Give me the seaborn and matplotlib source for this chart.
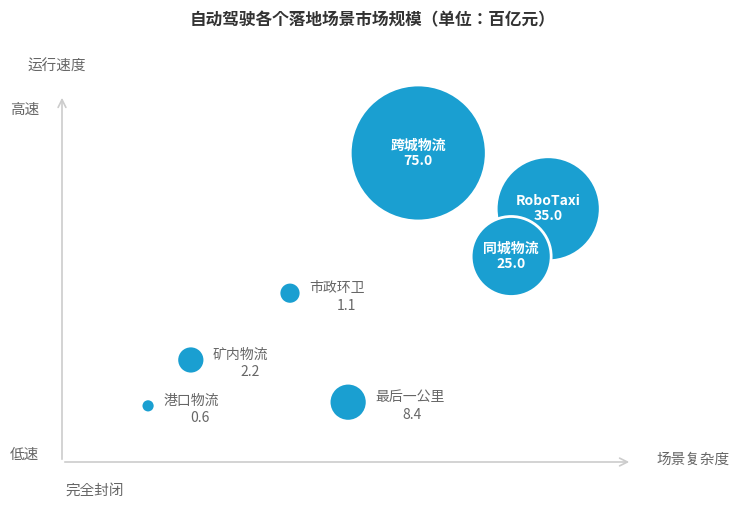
import matplotlib.pyplot as plt
import seaborn as sns
import pandas as pd

plt.rcParams['font.family'] = ['Noto Sans CJK SC', 'Noto Sans CJK JP', 'Noto Sans CJK TC',
                               'Noto Sans CJK KR', 'DejaVu Sans']

# Data (positions on a 0-100 "complexity" / "speed" scale)
names = ['跨城物流', 'RoboTaxi', '同城物流', '市政环卫', '矿内物流', '最后一公里', '港口物流']
values = [75.0, 35.0, 25.0, 1.1, 2.2, 8.4, 0.6]
complexity = [62.5, 85.3, 78.8, 40.0, 22.6, 50.2, 15.1]
speed = [84.2, 69.0, 56.0, 46.0, 27.8, 16.3, 15.3]

df = pd.DataFrame({'name': names, 'value': values, 'x': complexity, 'y': speed})

# bubble radii in pixels (visual style)
radius_px = [68, 52, 40, 11, 14, 19, 7]
sizes = {n: (1.44 * r) ** 2 for n, r in zip(names, radius_px)}
inside = {'跨城物流', 'RoboTaxi', '同城物流'}

fig = plt.figure(figsize=(7.46, 5.15), dpi=100)
ax = fig.add_axes([62 / 746, 53 / 515, 570 / 746, 367 / 515])
blue = '#1a9fd1'

sns.scatterplot(data=df, x='x', y='y', size='name', sizes=sizes, legend=False,
                color=blue, edgecolor='white', linewidth=2, alpha=1, ax=ax, clip_on=False)

for _, row in df.iterrows():
    if row['name'] in inside:
        ax.text(row['x'], row['y'], f"{row['name']}\n{row['value']:.1f}", color='white',
                fontsize=10, fontweight='bold', ha='center', va='center', linespacing=1.1)
    else:
        r = radius_px[names.index(row['name'])]
        dx = (r + 8) / 570 * 100
        ax.text(row['x'] + dx, row['y'] - 0.5, row['name'], color='#666666', fontsize=10,
                ha='left', va='bottom')
        ax.text(row['x'] + dx + 6.5, row['y'] - 1.5, f"{row['value']:.1f}", color='#666666',
                fontsize=10, ha='center', va='top')

ax.set_xlim(0, 100)
ax.set_ylim(0, 100)
for s in ax.spines.values():
    s.set_visible(False)
ax.set_xticks([])
ax.set_yticks([])
ax.set_xlabel('')
ax.set_ylabel('')
ax.patch.set_alpha(0)

arrow = dict(arrowstyle='->', color='#cccccc', lw=1.2, mutation_scale=14)
ax.annotate('', xy=(1.0, 0), xytext=(0, 0), xycoords='axes fraction', arrowprops=arrow)
ax.annotate('', xy=(0, 1.0), xytext=(0, 0), xycoords='axes fraction', arrowprops=arrow)

fig.text(0.5, 1 - 20 / 515, '自动驾驶各个落地场景市场规模（单位：百亿元）', ha='center', va='center',
         fontsize=12, fontweight='bold', color='#333333')
gray = '#666666'
fig.text(27 / 746, 1 - 67 / 515, '运行速度', fontsize=10.5, color=gray, va='center')
fig.text(10 / 746, 1 - 110 / 515, '高速', fontsize=10.5, color=gray, va='center')
fig.text(10 / 746, 1 - 455 / 515, '低速', fontsize=10.5, color=gray, va='center')
fig.text(66 / 746, 1 - 491 / 515, '完全封闭', fontsize=10.5, color=gray, va='center')
fig.text(656 / 746, 1 - 460 / 515, '场景复杂度', fontsize=10.5, color=gray, va='center')

fig.savefig('out.png', dpi=100)
